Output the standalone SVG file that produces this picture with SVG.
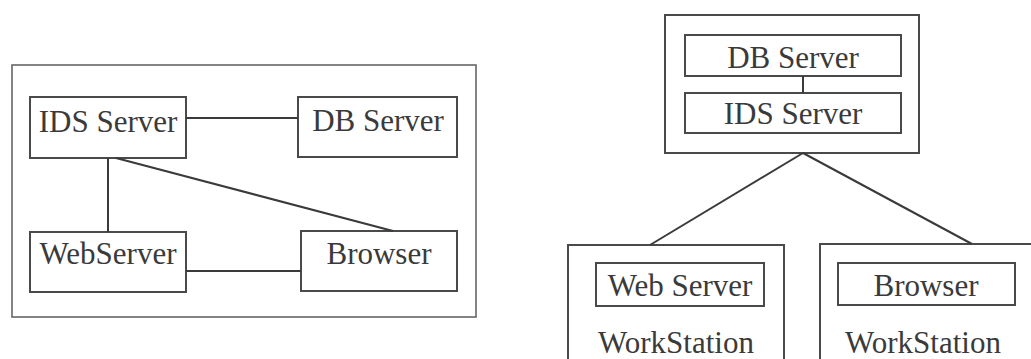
<svg xmlns="http://www.w3.org/2000/svg" width="1031" height="359" viewBox="0 0 1031 359">
<style>
.box{fill:none;stroke:#4a4a4a;stroke-width:2}
.outer{fill:none;stroke:#666;stroke-width:1.6}
.lbl{font-family:"Liberation Serif","Times New Roman",serif;font-size:31px;fill:#3a3a3a;text-anchor:middle}
.con{stroke:#3a3a3a;stroke-width:2;fill:none}
</style>
<rect width="1031" height="359" fill="#fff"/>
<g id="left-container"><rect class="outer" x="12" y="65" width="464" height="252"/></g>
<g id="ids-left"><rect class="box" x="30" y="97" width="156" height="61"/><text class="lbl" x="108" y="132">IDS Server</text></g>
<g id="db-left"><rect class="box" x="298" y="97" width="159" height="60"/><text class="lbl" x="378" y="131">DB Server</text></g>
<g id="web-left"><rect class="box" x="30" y="232" width="156" height="60"/><text class="lbl" x="108" y="264">WebServer</text></g>
<g id="browser-left"><rect class="box" x="301" y="231" width="156" height="60"/><text class="lbl" x="379" y="264">Browser</text></g>
<g id="server-container"><rect class="box" x="665" y="15" width="254" height="138"/></g>
<g id="db-right"><rect class="box" x="685" y="35" width="216" height="41"/><text class="lbl" x="793" y="68">DB Server</text></g>
<g id="ids-right"><rect class="box" x="685" y="93" width="216" height="40"/><text class="lbl" x="793" y="124">IDS Server</text></g>
<g id="ws-left"><rect class="box" x="568" y="245" width="216" height="130"/><text class="lbl" x="676" y="353">WorkStation</text></g>
<g id="web-right"><rect class="box" x="596" y="263" width="168" height="43"/><text class="lbl" x="680" y="296">Web Server</text></g>
<g id="ws-right"><rect class="box" x="820" y="244" width="230" height="130"/><text class="lbl" x="923" y="353">WorkStation</text></g>
<g id="browser-right"><rect class="box" x="838" y="263" width="177" height="42"/><text class="lbl" x="926" y="296">Browser</text></g>
<g id="connectors">
<line class="con" x1="186" y1="118" x2="298" y2="118"/>
<line class="con" x1="108" y1="158" x2="108" y2="232"/>
<line class="con" x1="116" y1="158" x2="393" y2="231"/>
<line class="con" x1="186" y1="271" x2="301" y2="271"/>
<line class="con" x1="803" y1="76" x2="803" y2="93"/>
<line class="con" x1="803" y1="153" x2="650" y2="245"/>
<line class="con" x1="803" y1="153" x2="972" y2="244"/>
</g>
</svg>
